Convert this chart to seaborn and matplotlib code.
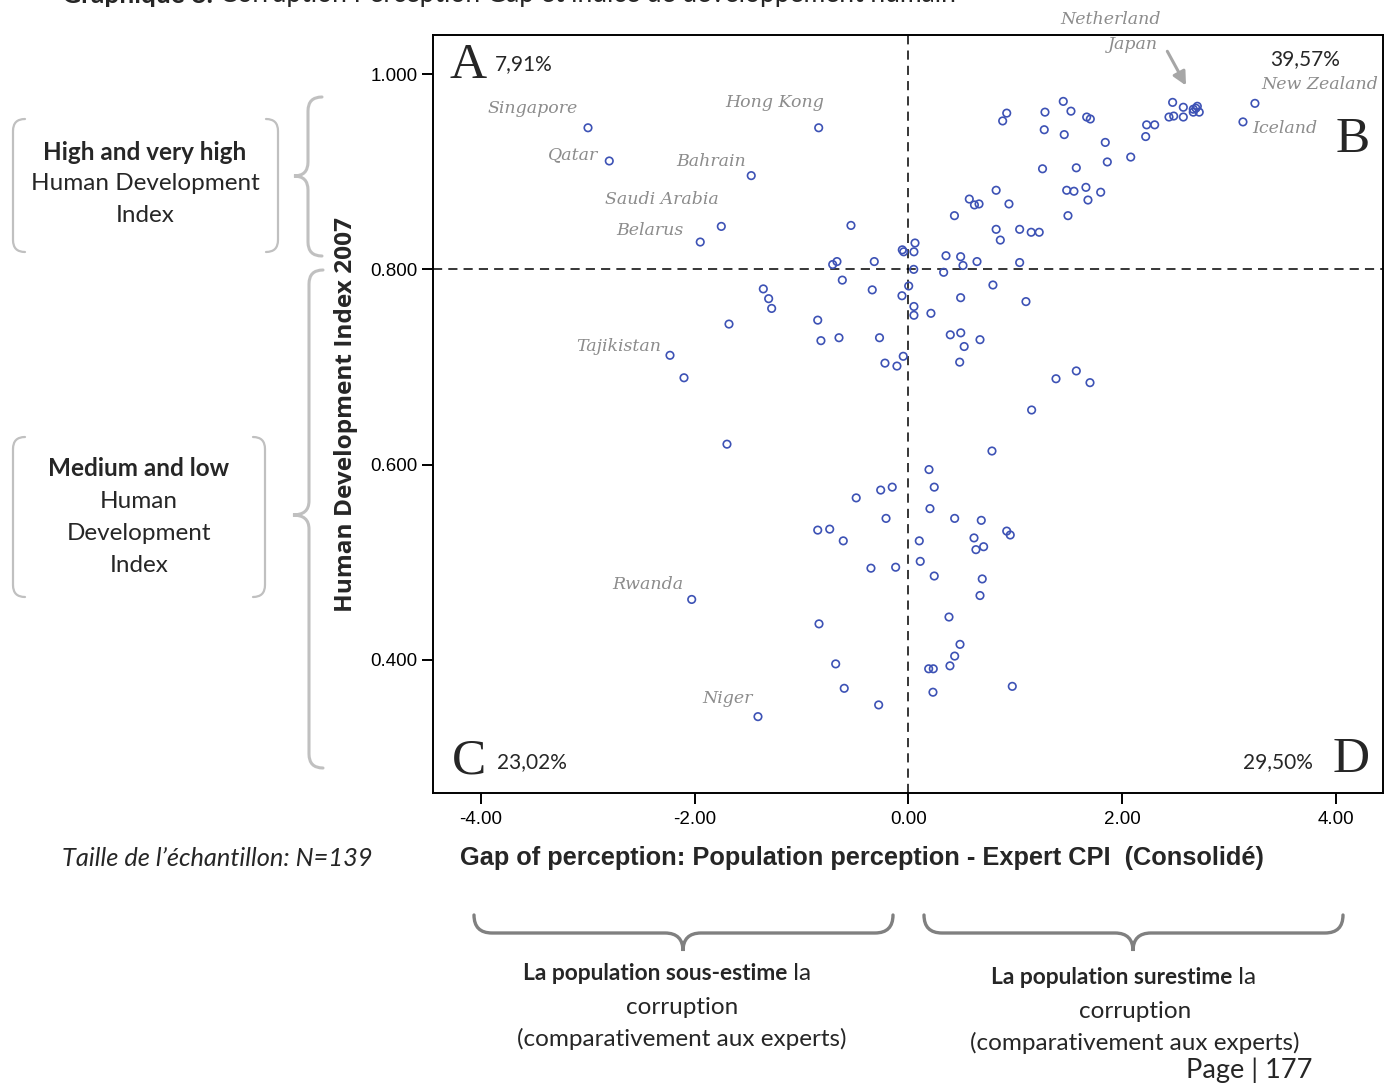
import numpy as np
import pandas as pd
import matplotlib
matplotlib.use("Agg")
import matplotlib.pyplot as plt
from matplotlib.path import Path
from matplotlib.patches import PathPatch
from matplotlib.ticker import FormatStrFormatter
import seaborn as sns

# Pays nommés sur le graphique (gap de perception, IDH 2007)
named_country = ['Singapore', 'Qatar', 'Bahrain', 'Hong Kong', 'Saudi Arabia', 'Belarus',
                 'Tajikistan', 'Rwanda', 'Niger', 'Iceland', 'New Zealand', 'Japan', 'Netherland']
named_gap = [-2.998, -2.799, -1.471, -0.840, -1.751, -1.948,
             -2.231, -2.028, -1.408, 3.129, 3.241, 2.702, 2.720]
named_hdi = [0.945, 0.911, 0.896, 0.945, 0.844, 0.828,
             0.712, 0.462, 0.342, 0.951, 0.970, 0.967, 0.961]

# Autres pays (non nommés)
other_gap = [
    # quadrant A
    -0.538, -0.709, -0.669, -0.320, -0.058, -0.045,
    # quadrant B
    0.061, 0.051, 0.351, 0.488, 0.510, 0.641, 1.040, 0.049,
    0.859, 0.820, 1.040, 1.148, 1.223,
    0.430, 0.569, 0.617, 0.660, 0.820, 0.940,
    1.254, 1.492, 1.679, 1.480, 1.548, 1.660, 1.798,
    1.570, 1.860, 2.079, 1.841, 2.219, 2.228, 2.303,
    2.437, 2.481, 2.571, 2.471, 2.571,
    2.664, 2.664, 2.689,
    1.448, 1.277, 1.520, 0.919, 0.881, 1.667, 1.701, 1.270, 1.457,
    # quadrant C
    -1.358, -1.308, -1.280, -1.679, -0.849, -0.819, -0.650, -0.271,
    -0.619, -0.339, -0.061, -0.049, -0.220, -0.108,
    -2.100, -1.698, -0.489, -0.260, -0.152, -0.210,
    -0.849, -0.737, -0.610, -0.351, -0.120,
    -0.837, -0.681, -0.601, -0.279,
    # quadrant D
    0.002, 0.051, 0.051, 0.210, 0.329, 0.488, 0.790, 1.099,
    0.391, 0.489, 0.669, 0.521, 0.479, 1.380, 1.570, 1.698,
    1.152, 0.781, 0.192, 0.241, 0.201, 0.432, 0.681, 0.919,
    0.952, 0.101, 0.613, 0.703, 0.631, 0.110, 0.241, 0.690,
    0.669, 0.379, 0.482, 0.432, 0.388, 0.189, 0.232, 0.229, 0.971,
]
other_hdi = [
    # quadrant A
    0.845, 0.805, 0.808, 0.808, 0.820, 0.818,
    # quadrant B
    0.827, 0.818, 0.814, 0.813, 0.804, 0.808, 0.807, 0.800,
    0.830, 0.841, 0.841, 0.838, 0.838,
    0.855, 0.872, 0.866, 0.867, 0.881, 0.867,
    0.903, 0.855, 0.871, 0.881, 0.880, 0.884, 0.879,
    0.904, 0.910, 0.915, 0.930, 0.936, 0.948, 0.948,
    0.956, 0.957, 0.956, 0.971, 0.966,
    0.964, 0.961, 0.965,
    0.972, 0.961, 0.962, 0.960, 0.952, 0.956, 0.954, 0.943, 0.938,
    # quadrant C
    0.780, 0.770, 0.760, 0.744, 0.748, 0.727, 0.730, 0.730,
    0.789, 0.779, 0.773, 0.711, 0.704, 0.701,
    0.689, 0.621, 0.566, 0.574, 0.577, 0.545,
    0.533, 0.534, 0.522, 0.494, 0.495,
    0.437, 0.396, 0.371, 0.354,
    # quadrant D
    0.783, 0.762, 0.753, 0.755, 0.797, 0.771, 0.784, 0.767,
    0.733, 0.735, 0.728, 0.721, 0.705, 0.688, 0.696, 0.684,
    0.656, 0.614, 0.595, 0.577, 0.555, 0.545, 0.543, 0.532,
    0.528, 0.522, 0.525, 0.516, 0.513, 0.501, 0.486, 0.483,
    0.466, 0.444, 0.416, 0.404, 0.394, 0.391, 0.391, 0.367, 0.373,
]

x_ticks = [-4, -2, 0, 2, 4]
y_ticks = [0.4, 0.6, 0.8, 1.0]
quadrant_letters = ['A', 'B', 'C', 'D']
quadrant_shares = ['7,91%', '39,57%', '23,02%', '29,50%']
hdi_threshold = 0.8

# --- mise en page (pixels de l'image de référence) ---
W, H = 1390, 1084
blue = '#3d52b5'
label_grey = '#8c8c8c'
serif_it = dict(family='DejaVu Serif', style='italic', color=label_grey, fontsize=12.5)

# décalages des étiquettes de pays (px, y vers le haut)
label_offsets = {
    'Singapore': (-10, 19, 'right'), 'Qatar': (-11, 6, 'right'), 'Bahrain': (-5, 14, 'right'),
    'Hong Kong': (5, 25, 'right'), 'Saudi Arabia': (-3, 27, 'right'), 'Belarus': (-17, 12, 'right'),
    'Tajikistan': (-9, 9, 'right'), 'Rwanda': (-8, 15, 'right'), 'Niger': (-5, 18, 'right'),
    'Iceland': (9, -7, 'left'), 'New Zealand': (6, 19, 'left'),
    'Japan': (-64, 62, 'center'), 'Netherland': (-89, 93, 'center'),
}

sns.set_style('ticks')
plt.rcParams['font.family'] = ['Liberation Sans', 'DejaVu Sans']

fig = plt.figure(figsize=(W / 100, H / 100), dpi=100, facecolor='white')
ax = fig.add_axes([433 / W, 1 - 793 / H, 950 / W, 758 / H])

df = pd.DataFrame({'gap': other_gap + named_gap, 'hdi': other_hdi + named_hdi})
sns.scatterplot(data=df, x='gap', y='hdi', ax=ax, marker='o', s=29,
                facecolor='none', edgecolor=blue, linewidth=1.2, zorder=3)

ax.axvline(0, color='black', lw=1.1, ls=(0, (6, 4)), zorder=1)
ax.axhline(hdi_threshold, color='black', lw=1.1, ls=(0, (6, 4)), zorder=1)

ax.set_xlim(-4.448, 4.439)
ax.set_ylim(0.2638, 1.040)
ax.set_xticks(x_ticks)
ax.set_yticks(y_ticks)
ax.xaxis.set_major_formatter(FormatStrFormatter('%.2f'))
ax.yaxis.set_major_formatter(FormatStrFormatter('%.3f'))
ax.tick_params(direction='out', length=8, width=1.4, labelsize=13.5, colors='black', pad=3)
ax.tick_params(axis='x', pad=5)
for s in ax.spines.values():
    s.set_visible(True)
    s.set_color('black')
    s.set_linewidth(1.4)

ax.set_xlabel('Gap of perception: Population perception - Expert CPI  (Consolidé)',
              fontsize=18.3, fontweight='bold', va='center')
ax.xaxis.set_label_coords((862 - 433) / 950, (793 - 858) / 758)
ax.set_ylabel('Human Development Index 2007', family='Open Sans', fontsize=17.6,
              fontweight='bold', va='center')
ax.yaxis.set_label_coords((346 - 433) / 950, (793 - 414) / 758)

# étiquettes des pays
for name, gx, hy in zip(named_country, named_gap, named_hdi):
    dx, dy, ha = label_offsets[name]
    ax.annotate(name, xy=(gx, hy), xytext=(dx, dy), textcoords='offset pixels',
                ha=ha, va='center', annotation_clip=False, **serif_it)
jp = named_country.index('Japan')
ax.annotate('', xy=(named_gap[jp], named_hdi[jp]), xytext=(-30, 55), textcoords='offset pixels',
            arrowprops=dict(arrowstyle='-|>', color='#a6a6a6', lw=2.2, mutation_scale=20,
                            shrinkA=0, shrinkB=17))

# calque en pixels pour les textes et accolades
over = fig.add_axes([0, 0, 1, 1])
over.set_xlim(0, W)
over.set_ylim(H, 0)
over.axis('off')

letter_pos = [(449, 78, 'left'), (1370, 152, 'right'), (452, 774, 'left'), (1370, 772, 'right')]
share_pos = [(495, 70, 'left'), (1270, 65, 'left'), (497, 768, 'left'), (1313, 768, 'right')]
for (lx, ly, lha), letter in zip(letter_pos, quadrant_letters):
    over.text(lx, ly, letter, family='Liberation Serif', fontsize=37, ha=lha, va='baseline')
for (sx, sy, sha), share in zip(share_pos, quadrant_shares):
    over.text(sx, sy, share, family='Lato', fontsize=15, ha=sha, va='baseline')

M, L, C3 = Path.MOVETO, Path.LINETO, Path.CURVE3


def vbrace(x_end, x_mid, x_tip, y0, y_tip, y1, r, color, lw):
    verts = [(x_end, y0), (x_mid, y0), (x_mid, y0 + r),
             (x_mid, y_tip - r), (x_mid, y_tip), (x_tip, y_tip),
             (x_mid, y_tip), (x_mid, y_tip + r),
             (x_mid, y1 - r), (x_mid, y1), (x_end, y1)]
    codes = [M, C3, C3, L, C3, C3, C3, C3, L, C3, C3]
    over.add_patch(PathPatch(Path(verts, codes), fc='none', ec=color, lw=lw, capstyle='round'))


def hbrace(x0, x_tip, x1, y_end, y_mid, y_tip, r, color, lw):
    verts = [(x0, y_end), (x0, y_mid), (x0 + r, y_mid),
             (x_tip - r, y_mid), (x_tip, y_mid), (x_tip, y_tip),
             (x_tip, y_mid), (x_tip + r, y_mid),
             (x1 - r, y_mid), (x1, y_mid), (x1, y_end)]
    codes = [M, C3, C3, L, C3, C3, C3, C3, L, C3, C3]
    over.add_patch(PathPatch(Path(verts, codes), fc='none', ec=color, lw=lw, capstyle='round'))


def bracket_box(xl, xr, y0, y1, r, color, lw):
    for x_side, sign in ((xl, 1), (xr, -1)):
        verts = [(x_side + sign * r, y0), (x_side, y0), (x_side, y0 + r),
                 (x_side, y1 - r), (x_side, y1), (x_side + sign * r, y1)]
        codes = [M, C3, C3, L, C3, C3]
        over.add_patch(PathPatch(Path(verts, codes), fc='none', ec=color, lw=lw, capstyle='round'))


light = '#c0c0c0'
vbrace(322, 308, 294, 97, 176, 256, 14, light, 2.2)
vbrace(323, 309, 293, 270, 515, 768, 14, light, 2.2)
bracket_box(13, 278, 119, 252, 12, light, 1.6)
bracket_box(13, 265, 437, 597, 12, light, 1.6)

dark = '#808080'
hbrace(474, 683, 893, 915, 933, 951, 18, dark, 2.4)
hbrace(924, 1133, 1343, 915, 933, 951, 18, dark, 2.4)

box_font = dict(family='Lato', fontsize=17.5, ha='center', va='center')
over.text(145, 152, 'High and very high', fontweight='bold', **box_font)
over.text(145, 184, 'Human Development', **box_font)
over.text(145, 216, 'Index', **box_font)
over.text(139, 469, 'Medium and low', fontweight='bold', **box_font)
over.text(139, 502, 'Human', **box_font)
over.text(139, 534, 'Development', **box_font)
over.text(139, 566, 'Index', **box_font)

over.text(62, 859, 'Taille de l\u2019échantillon: N=139', family='Lato', style='italic',
          fontsize=18.3, ha='left', va='center')

bold_font = dict(family='Lato', fontsize=16.4)
reg_font = dict(family='Lato', fontsize=17.5)
for x_start, x_center, y_top, bold_part in ((523, 682, 974, 'La population sous-estime'),
                                            (991, 1135, 978, 'La population surestime')):
    t = over.text(x_start, y_top, bold_part, fontweight='bold', ha='left', va='center', **bold_font)
    over.annotate(' la', xy=(1, 0), xycoords=t, ha='left', va='bottom', **reg_font)
    over.text(x_center, y_top + 33, 'corruption', ha='center', va='center', **reg_font)
    over.text(x_center, y_top + 65, '(comparativement aux experts)', ha='center', va='center', **reg_font)

over.text(1313, 1070, 'Page | 177', family='Lato', fontsize=19.5, ha='right', va='center')

# titre coupé en haut de la page (comme sur la référence)
tt = over.text(62, 3, 'Graphique 8:', family='Lato', fontsize=19, fontweight='bold',
               ha='left', va='baseline')
over.annotate(' Corruption Perception Gap et indice de développement humain', xy=(1, 0),
              xycoords=tt, family='Lato', fontsize=19, ha='left', va='bottom')

fig.savefig('out.png', dpi=100, facecolor='white')
